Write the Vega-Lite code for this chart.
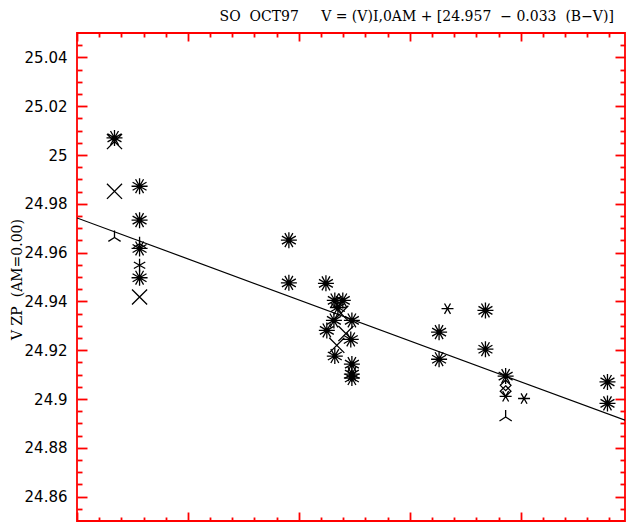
{
  "$schema": "https://vega.github.io/schema/vega-lite/v6.json",
  "autosize": "none",
  "width": 548,
  "height": 488,
  "padding": {"left": 77, "top": 33, "right": 1, "bottom": 1},
  "background": "white",
  "title": {
    "text": "SO\u00a0\u00a0OCT97\u00a0\u00a0\u00a0\u00a0\u00a0V\u00a0=\u00a0(V)I,0AM\u00a0+\u00a0[24.957\u00a0\u00a0−\u00a00.033\u00a0\u00a0(B−V)]",
    "anchor": "end",
    "dx": -12,
    "offset": 8,
    "font": "DejaVu Serif",
    "fontSize": 14,
    "fontWeight": "normal",
    "color": "black"
  },
  "config": {
    "view": {"stroke": "red", "strokeWidth": 1.8},
    "axis": {
      "grid": false,
      "domain": false,
      "tickColor": "red",
      "tickWidth": 1.8,
      "tickOpacity": 1,
      "labelColor": "black",
      "titleColor": "black"
    }
  },
  "datasets": {
    "pts": [
      {"bv": -0.331, "v": 25.0070, "m": "ast"},
      {"bv": -0.331, "v": 25.0055, "m": "x"},
      {"bv": -0.331, "v": 24.9851, "m": "x"},
      {"bv": -0.331, "v": 24.9662, "m": "tri"},
      {"bv": -0.218, "v": 24.9872, "m": "ast"},
      {"bv": -0.218, "v": 24.9733, "m": "ast"},
      {"bv": -0.218, "v": 24.9617, "m": "ast"},
      {"bv": -0.218, "v": 24.9636, "m": "tri"},
      {"bv": -0.218, "v": 24.9548, "m": "star6v"},
      {"bv": -0.218, "v": 24.9497, "m": "ast"},
      {"bv": -0.218, "v": 24.9418, "m": "x"},
      {"bv": 0.455, "v": 24.9651, "m": "ast"},
      {"bv": 0.455, "v": 24.9476, "m": "ast"},
      {"bv": 0.622, "v": 24.9474, "m": "ast"},
      {"bv": 0.662, "v": 24.9404, "m": "ast"},
      {"bv": 0.698, "v": 24.9404, "m": "ast"},
      {"bv": 0.676, "v": 24.9375, "m": "ast"},
      {"bv": 0.689, "v": 24.9351, "m": "x"},
      {"bv": 0.658, "v": 24.9322, "m": "ast"},
      {"bv": 0.739, "v": 24.9322, "m": "ast"},
      {"bv": 0.626, "v": 24.9281, "m": "ast"},
      {"bv": 0.712, "v": 24.9268, "m": "x"},
      {"bv": 0.734, "v": 24.9244, "m": "ast"},
      {"bv": 0.671, "v": 24.9220, "m": "x"},
      {"bv": 0.662, "v": 24.9176, "m": "ast"},
      {"bv": 0.739, "v": 24.9143, "m": "ast"},
      {"bv": 0.739, "v": 24.9102, "m": "ast"},
      {"bv": 0.739, "v": 24.9086, "m": "ast"},
      {"bv": 1.170, "v": 24.9370, "m": "star6h"},
      {"bv": 1.341, "v": 24.9363, "m": "ast"},
      {"bv": 1.132, "v": 24.9274, "m": "ast"},
      {"bv": 1.341, "v": 24.9204, "m": "ast"},
      {"bv": 1.132, "v": 24.9163, "m": "ast"},
      {"bv": 1.432, "v": 24.9094, "m": "ast"},
      {"bv": 1.432, "v": 24.9056, "m": "diamond"},
      {"bv": 1.432, "v": 24.9032, "m": "diamond"},
      {"bv": 1.432, "v": 24.9011, "m": "star6h"},
      {"bv": 1.515, "v": 24.9002, "m": "star6h"},
      {"bv": 1.432, "v": 24.8926, "m": "tri"},
      {"bv": 1.891, "v": 24.9070, "m": "ast"},
      {"bv": 1.891, "v": 24.8982, "m": "ast"}
    ],
    "fit": [
      {"bv": -0.5, "v": 24.9742},
      {"bv": 1.97, "v": 24.8913}
    ]
  },
  "layer": [
    {
      "data": {"name": "pts"},
      "mark": {"type": "point", "filled": false, "stroke": "black", "strokeWidth": 1.3, "opacity": 1, "clip": true},
      "encoding": {
        "x": {
          "field": "bv", "type": "quantitative",
          "scale": {"domain": [-0.5, 1.97], "nice": false, "zero": false},
          "axis": {
            "orient": "bottom",
            "title": null,
            "labels": false,
            "values": [-0.5, 0, 0.5, 1, 1.5],
            "offset": -9,
            "tickSize": 9
          }
        },
        "y": {
          "field": "v", "type": "quantitative",
          "scale": {"domain": [24.85, 25.05], "nice": false, "zero": false},
          "axis": {
            "orient": "left",
            "title": "V\u00a0ZP\u00a0\u00a0(AM=0.00)",
            "titleFont": "DejaVu Serif",
            "titleFontSize": 14,
            "titleFontWeight": "normal",
            "titleAngle": -90,
            "titleX": -70,
            "titleY": 246,
            "titleAlign": "center",
            "titleBaseline": "middle",
            "values": [24.86, 24.88, 24.9, 24.92, 24.94, 24.96, 24.98, 25, 25.02, 25.04],
            "labelExpr": "datum.value + ''",
            "labelFont": "DejaVu Sans",
            "labelFontSize": 15,
            "labelPadding": 10,
            "labelFlush": false,
            "labelOverlap": false,
            "offset": -10,
            "tickSize": 10
          }
        },
        "shape": {
          "field": "m", "type": "nominal", "legend": null,
          "scale": {
            "domain": ["ast", "x", "tri", "star6v", "star6h", "diamond"],
            "range": [
              "M-1,0L1,0M0,-1L0,1M-0.87,-0.5L0.87,0.5M-0.87,0.5L0.87,-0.5M-0.5,-0.87L0.5,0.87M-0.5,0.87L0.5,-0.87",
              "M-1,-1L1,1M-1,1L1,-1",
              "M0,0L0,-1M0,0L-0.87,0.55M0,0L0.87,0.55",
              "M0,-1L0,1M-0.87,-0.5L0.87,0.5M-0.87,0.5L0.87,-0.5",
              "M-1,0L1,0M-0.5,-0.87L0.5,0.87M-0.5,0.87L0.5,-0.87",
              "M0,-1L1,0L0,1L-1,0Z"
            ]
          }
        },
        "size": {
          "field": "m", "type": "ordinal", "legend": null,
          "scale": {
            "domain": ["ast", "x", "tri", "star6v", "star6h", "diamond"],
            "range": [256, 115, 210, 196, 196, 64]
          }
        }
      }
    },
    {
      "data": {"name": "fit"},
      "mark": {"type": "line", "color": "black", "strokeWidth": 1.2, "clip": true},
      "encoding": {
        "x": {
          "field": "bv", "type": "quantitative",
          "axis": {
            "orient": "top",
            "title": null,
            "labels": false,
            "values": [-0.5, 0, 0.5, 1, 1.5],
            "offset": -8,
            "tickSize": 8
          }
        },
        "y": {
          "field": "v", "type": "quantitative",
          "axis": {
            "orient": "right",
            "title": null,
            "labels": false,
            "values": [24.86, 24.88, 24.9, 24.92, 24.94, 24.96, 24.98, 25, 25.02, 25.04],
            "offset": -10,
            "tickSize": 10
          }
        }
      }
    },
    {
      "data": {"name": "fit"},
      "mark": {"type": "line", "opacity": 0, "clip": true},
      "encoding": {
        "x": {
          "field": "bv", "type": "quantitative",
          "axis": {
            "orient": "bottom",
            "title": null,
            "labels": false,
            "values": [-0.4, -0.3, -0.2, -0.1, 0.1, 0.2, 0.3, 0.4, 0.6, 0.7, 0.8, 0.9, 1.1, 1.2, 1.3, 1.4, 1.6, 1.7, 1.8, 1.9],
            "offset": -4,
            "tickSize": 4
          }
        },
        "y": {
          "field": "v", "type": "quantitative",
          "axis": {
            "orient": "left",
            "title": null,
            "labels": false,
            "values": [24.855, 24.865, 24.87, 24.875, 24.885, 24.89, 24.895, 24.905, 24.91, 24.915, 24.925, 24.93, 24.935, 24.945, 24.95, 24.955, 24.965, 24.97, 24.975, 24.985, 24.99, 24.995, 25.005, 25.01, 25.015, 25.025, 25.03, 25.035, 25.045],
            "offset": -5,
            "tickSize": 5
          }
        }
      }
    },
    {
      "data": {"name": "fit"},
      "mark": {"type": "line", "opacity": 0, "clip": true},
      "encoding": {
        "x": {
          "field": "bv", "type": "quantitative",
          "axis": {
            "orient": "top",
            "title": null,
            "labels": false,
            "values": [-0.4, -0.3, -0.2, -0.1, 0.1, 0.2, 0.3, 0.4, 0.6, 0.7, 0.8, 0.9, 1.1, 1.2, 1.3, 1.4, 1.6, 1.7, 1.8, 1.9],
            "offset": -4,
            "tickSize": 4
          }
        },
        "y": {
          "field": "v", "type": "quantitative",
          "axis": {
            "orient": "right",
            "title": null,
            "labels": false,
            "values": [24.855, 24.865, 24.87, 24.875, 24.885, 24.89, 24.895, 24.905, 24.91, 24.915, 24.925, 24.93, 24.935, 24.945, 24.95, 24.955, 24.965, 24.97, 24.975, 24.985, 24.99, 24.995, 25.005, 25.01, 25.015, 25.025, 25.03, 25.035, 25.045],
            "offset": -5,
            "tickSize": 5
          }
        }
      }
    }
  ],
  "resolve": {"axis": {"x": "independent", "y": "independent"}}
}
